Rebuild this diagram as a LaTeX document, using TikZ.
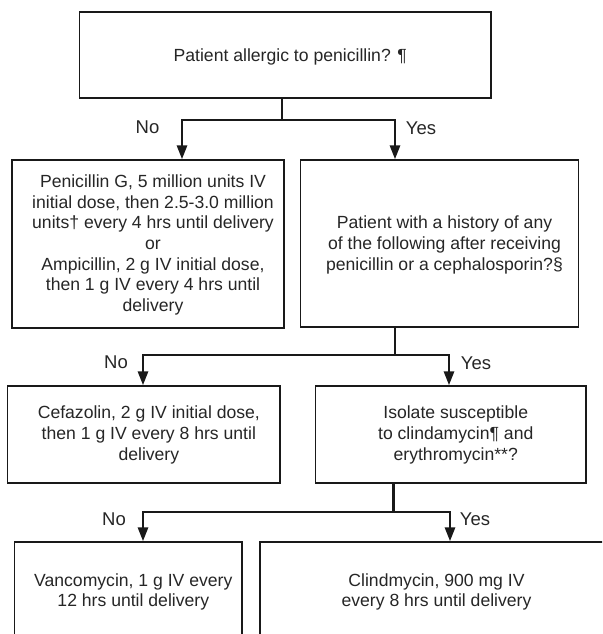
\documentclass[tikz,border=0pt]{standalone}
\usepackage{fontspec}
\setmainfont{Liberation Sans}
\usetikzlibrary{arrows.meta}
\begin{document}
\begin{tikzpicture}[x=1pt,y=-1pt,
  box/.style={draw=black!90, line width=1.4pt, rectangle, inner sep=0pt},
  txt/.style={align=center, inner sep=0pt, text=black!85, font=\fontsize{17.6}{20.7}\selectfont},
  flow/.style={draw=black!90, line width=2.8pt},
  flowarrow/.style={flow, -{Triangle[width=10pt,length=14pt]}},
  lab/.style={inner sep=0pt, text=black!85, font=\fontsize{18.5}{20}\selectfont}]
\useasboundingbox (0,0) rectangle (602,634);
\clip (0,0) rectangle (602,634);
\fill[white] (0,0) rectangle (602,634);

% boxes, each with its text set slightly right of centre
\node[box, minimum width=411.5pt, minimum height=86pt] (q1) at (285.25,55) {};
\node[txt] (q1t) at ([shift={(5,2)}]q1.center) {Patient allergic to penicillin? ¶};

\node[box, minimum width=272pt, minimum height=168pt] (t1) at (148,244) {};
\node[txt] (t1t) at ([shift={(5,1)}]t1.center) {Penicillin G, 5 million units IV\\
  initial dose, then 2.5-3.0 million\\
  units† every 4 hrs until delivery\\
  or\\
  Ampicillin, 2 g IV initial dose,\\
  then 1 g IV every 4 hrs until\\
  delivery};

\node[box, minimum width=278pt, minimum height=167pt] (q2) at (439.5,243.5) {};
\node[txt] (q2t) at ([shift={(5,1.5)}]q2.center) {Patient with a history of any\\
  of the following after receiving\\
  penicillin or a cephalosporin?§};

\node[box, minimum width=272.3pt, minimum height=97pt] (t2) at (143.85,434.5) {};
\node[txt] (t2t) at ([shift={(5,0.5)}]t2.center) {Cefazolin, 2 g IV initial dose,\\
  then 1 g IV every 8 hrs until\\
  delivery};

\node[box, minimum width=270.5pt, minimum height=97pt] (q3) at (450.75,434.5) {};
\node[txt] (q3t) at ([shift={(5,0.5)}]q3.center) {Isolate susceptible\\
  to clindamycin¶ and\\
  erythromycin**?};

\node[box, minimum width=227.4pt, minimum height=100pt] (t3) at (128.3,592) {};
\node[txt] (t3t) at ([shift={(5,0)}]t3.center) {Vancomycin, 1 g IV every\\
  12 hrs until delivery};

\node[box, minimum width=400pt, minimum height=100pt] (t4) at (460,592) {};
\node[txt] (t4t) at (436.5,592) {Clindmycin, 900 mg IV\\
  every 8 hrs until delivery};

% branch points and arrow columns
\coordinate (b1) at (282,120);
\coordinate (a1) at (182,0);
\coordinate (a2) at (395,0);
\coordinate (b2) at (395,355);
\coordinate (a3) at (143,0);
\coordinate (a4) at (449,0);
\coordinate (b3) at (393.5,512);
\coordinate (a5) at (143,0);
\coordinate (a6) at (450,0);

% connectors
\draw[flow] (b1 |- q1.south) -- (b1);
\draw[flowarrow] (b1) -| (a1 |- t1.north);
\draw[flowarrow] (b1) -| (a2 |- q2.north);

\draw[flow] (b2 |- q2.south) -- (b2);
\draw[flowarrow] (b2) -| (a3 |- t2.north);
\draw[flowarrow] (b2) -| (a4 |- q3.north);

\draw[flow] (b3 |- q3.south) -- (b3);
\draw[flowarrow] (b3) -| (a5 |- t3.north);
\draw[flowarrow] (b3) -| (a6 |- t4.north);

% branch labels
\node[lab] (no1) at (147.5,127.5) {No};
\node[lab] (yes1) at (421,128.5) {Yes};
\node[lab] (no2) at (116,362) {No};
\node[lab] (yes2) at (476,363) {Yes};
\node[lab] (no3) at (114,519) {No};
\node[lab] (yes3) at (475,519.5) {Yes};
\end{tikzpicture}
\end{document}
